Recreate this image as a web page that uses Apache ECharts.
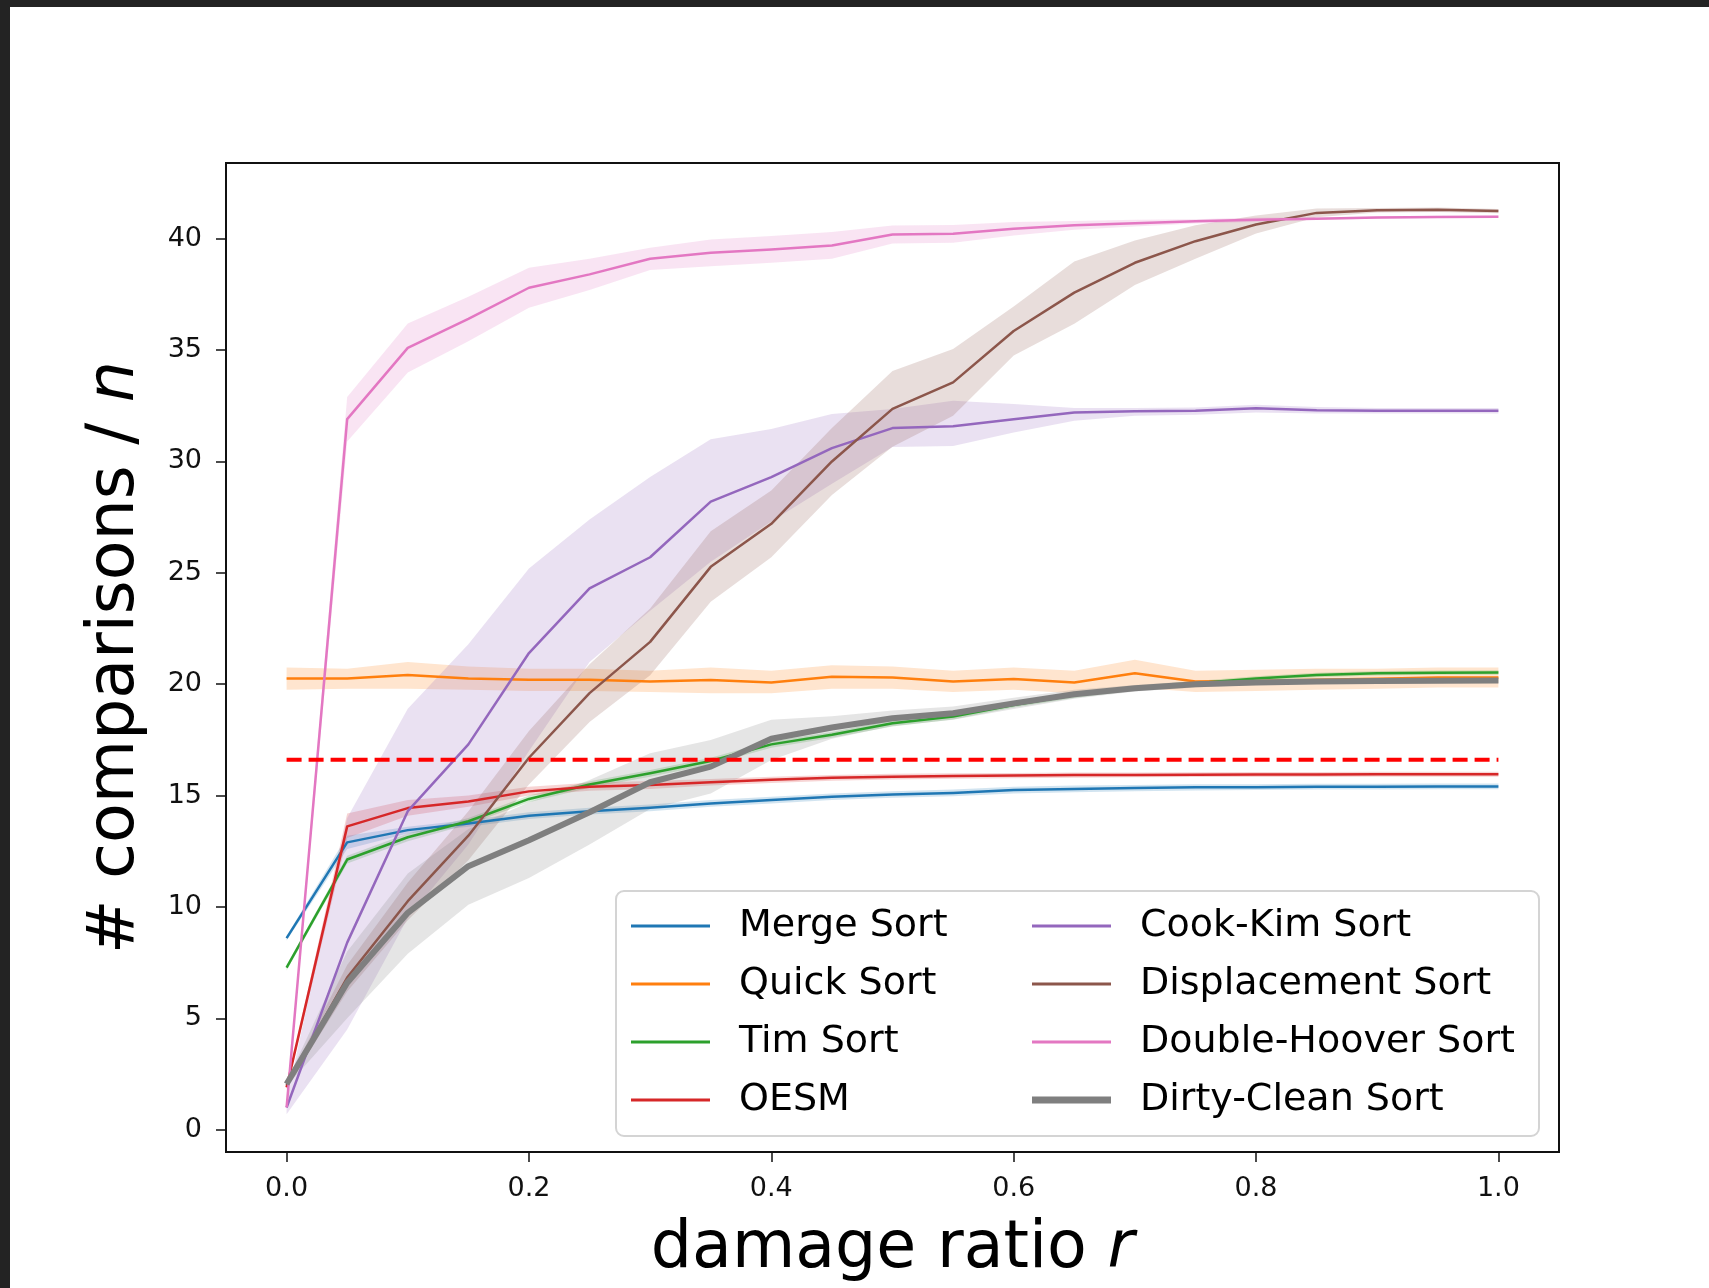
<!DOCTYPE html>
<html>
<head>
<meta charset="utf-8">
<script src="https://cdn.jsdelivr.net/npm/echarts@6/dist/echarts.min.js"></script>
<style>
  html, body { margin: 0; padding: 0; background: #fff; }
  #chart { position: absolute; left: 0; top: 0; width: 1709px; height: 1288px; }
  .edge { position: absolute; background: #232323; z-index: 10; }
</style>
</head>
<body>
<div id="chart"></div>
<div class="edge" style="left:0;top:0;width:1709px;height:7px;"></div>
<div class="edge" style="left:0;top:0;width:10px;height:1288px;"></div>
<script>
// damage ratio r
var xs = [0, 0.05, 0.1, 0.15, 0.2, 0.25, 0.3, 0.35, 0.4, 0.45, 0.5,
          0.55, 0.6, 0.65, 0.7, 0.75, 0.8, 0.85, 0.9, 0.95, 1.0];
var xTicks = [0, 0.2, 0.4, 0.6, 0.8, 1.0];
var yTicks = [0, 5, 10, 15, 20, 25, 30, 35, 40];
var log2n = 16.61;   // dashed reference line
var refX = [0, 1];

// mean comparisons / n
var mergeSort = [8.6, 12.9, 13.45, 13.75, 14.1, 14.3, 14.45, 14.65, 14.8, 14.95, 15.05, 15.12, 15.25, 15.3, 15.34, 15.37, 15.38, 15.4, 15.4, 15.41, 15.41];
var quickSort = [20.26, 20.26, 20.41, 20.26, 20.2, 20.2, 20.12, 20.19, 20.08, 20.34, 20.3, 20.12, 20.24, 20.08, 20.49, 20.12, 20.15, 20.2, 20.25, 20.3, 20.3];
var timSort = [7.28, 12.13, 13.13, 13.85, 14.85, 15.5, 16.0, 16.55, 17.3, 17.73, 18.25, 18.55, 19.07, 19.5, 19.82, 20.04, 20.26, 20.41, 20.49, 20.52, 20.53];
var oesm = [1.9, 13.62, 14.44, 14.74, 15.19, 15.4, 15.48, 15.6, 15.71, 15.8, 15.85, 15.88, 15.9, 15.92, 15.93, 15.94, 15.95, 15.95, 15.96, 15.96, 15.96];
var cookKim = [1.0, 8.4, 14.3, 17.3, 21.4, 24.3, 25.7, 28.2, 29.3, 30.6, 31.5, 31.58, 31.9, 32.2, 32.25, 32.28, 32.39, 32.3, 32.28, 32.28, 32.28];
var displacement = [2.0, 6.83, 10.26, 13.2, 16.7, 19.6, 21.9, 25.27, 27.2, 30.0, 32.36, 33.55, 35.86, 37.58, 38.92, 39.89, 40.64, 41.16, 41.28, 41.3, 41.24];
var doubleHoover = [1.0, 31.9, 35.1, 36.4, 37.8, 38.4, 39.1, 39.37, 39.52, 39.7, 40.19, 40.22, 40.45, 40.6, 40.7, 40.78, 40.85, 40.9, 40.95, 40.98, 40.99];
var dirtyClean = [2.05, 6.6, 9.74, 11.83, 13.0, 14.25, 15.6, 16.3, 17.55, 18.06, 18.47, 18.7, 19.14, 19.55, 19.82, 20.0, 20.08, 20.12, 20.14, 20.16, 20.17];

// confidence bands (lower / upper)
var mergeLo = [8.5, 12.6, 13.3, 13.6, 13.95, 14.15, 14.3, 14.5, 14.65, 14.8, 14.9, 14.97, 15.1, 15.15, 15.2, 15.23, 15.25, 15.27, 15.27, 15.28, 15.28];
var mergeHi = [8.7, 13.2, 13.6, 13.9, 14.25, 14.45, 14.6, 14.8, 14.95, 15.1, 15.2, 15.27, 15.4, 15.45, 15.48, 15.51, 15.51, 15.53, 15.53, 15.54, 15.54];
var quickLo = [19.75, 19.8, 19.8, 19.75, 19.7, 19.7, 19.65, 19.6, 19.6, 19.8, 19.8, 19.65, 19.75, 19.6, 19.85, 19.65, 19.7, 19.75, 19.8, 19.85, 19.85];
var quickHi = [20.75, 20.7, 21.0, 20.8, 20.7, 20.7, 20.6, 20.75, 20.6, 20.85, 20.8, 20.6, 20.75, 20.6, 21.1, 20.6, 20.65, 20.7, 20.7, 20.75, 20.75];
var timLo = [7.15, 11.95, 12.95, 13.7, 14.7, 15.35, 15.85, 16.4, 17.15, 17.6, 18.1, 18.42, 18.95, 19.38, 19.72, 19.94, 20.16, 20.31, 20.39, 20.42, 20.43];
var timHi = [7.4, 12.3, 13.3, 14.0, 15.0, 15.65, 16.15, 16.7, 17.45, 17.86, 18.4, 18.68, 19.19, 19.62, 19.92, 20.14, 20.36, 20.51, 20.59, 20.62, 20.63];
var oesmLo = [1.8, 13.1, 14.1, 14.5, 15.0, 15.22, 15.3, 15.45, 15.57, 15.67, 15.72, 15.76, 15.78, 15.8, 15.82, 15.83, 15.84, 15.84, 15.85, 15.85, 15.85];
var oesmHi = [2.0, 14.2, 14.8, 15.0, 15.4, 15.58, 15.66, 15.75, 15.85, 15.93, 15.98, 16.0, 16.02, 16.04, 16.04, 16.05, 16.06, 16.06, 16.07, 16.07, 16.07];
var cookLo = [0.7, 4.5, 9.5, 12.8, 17.0, 21.0, 23.3, 25.5, 27.3, 29.0, 30.65, 30.7, 31.3, 31.83, 32.05, 32.1, 32.2, 32.15, 32.15, 32.15, 32.15];
var cookHi = [1.3, 14.0, 18.9, 21.8, 25.2, 27.4, 29.3, 31.0, 31.46, 32.13, 32.36, 32.73, 32.58, 32.4, 32.4, 32.42, 32.55, 32.45, 32.4, 32.4, 32.4];
var dispLo = [1.9, 6.2, 9.4, 12.1, 15.5, 18.3, 20.4, 23.7, 25.7, 28.5, 30.66, 32.05, 34.76, 36.18, 37.92, 39.1, 40.24, 40.96, 41.18, 41.2, 41.14];
var dispHi = [2.1, 7.4, 11.1, 14.3, 17.9, 20.9, 23.4, 26.87, 28.7, 31.5, 34.06, 35.05, 36.96, 38.98, 39.92, 40.6, 41.04, 41.36, 41.38, 41.4, 41.34];
var hooverLo = [0.9, 30.9, 34.0, 35.4, 36.9, 37.7, 38.6, 38.77, 38.92, 39.1, 39.79, 39.82, 40.15, 40.4, 40.55, 40.68, 40.75, 40.85, 40.9, 40.93, 40.94];
var hooverHi = [1.1, 32.9, 36.2, 37.4, 38.7, 39.1, 39.6, 39.97, 40.12, 40.3, 40.59, 40.62, 40.75, 40.8, 40.85, 40.88, 40.95, 40.95, 41.0, 41.03, 41.04];
var dirtyLo = [1.95, 5.0, 7.9, 10.1, 11.3, 12.8, 14.4, 15.1, 16.6, 17.55, 18.12, 18.4, 18.89, 19.35, 19.67, 19.85, 19.98, 20.02, 20.04, 20.06, 20.07];
var dirtyHi = [2.15, 8.0, 11.5, 13.5, 14.7, 15.7, 16.9, 17.5, 18.4, 18.56, 18.82, 19.0, 19.39, 19.75, 19.97, 20.15, 20.18, 20.22, 20.24, 20.26, 20.27];

var names = ['Merge Sort', 'Quick Sort', 'Tim Sort', 'OESM',
             'Cook-Kim Sort', 'Displacement Sort', 'Double-Hoover Sort', 'Dirty-Clean Sort'];
var colors = ['#1f77b4', '#ff7f0e', '#2ca02c', '#d62728', '#9467bd', '#8c564b', '#e377c2', '#7f7f7f'];
var means = [mergeSort, quickSort, timSort, oesm, cookKim, displacement, doubleHoover, dirtyClean];
var lows = [mergeLo, quickLo, timLo, oesmLo, cookLo, dispLo, hooverLo, dirtyLo];
var highs = [mergeHi, quickHi, timHi, oesmHi, cookHi, dispHi, hooverHi, dirtyHi];

function hexA(hex, a) {
  var n = parseInt(hex.slice(1), 16);
  return 'rgba(' + (n >> 16) + ',' + ((n >> 8) & 255) + ',' + (n & 255) + ',' + a + ')';
}

// band polygon: upper edge left->right, lower edge right->left
function bandSeries(i) {
  var lo = lows[i], hi = highs[i];
  return {
    name: names[i] + ' band', type: 'custom', silent: true, z: 1, clip: true,
    data: [0],
    renderItem: function (params, api) {
      var pts = [];
      for (var k = 0; k < xs.length; k++) pts.push(api.coord([xs[k], hi[k]]));
      for (var k2 = xs.length - 1; k2 >= 0; k2--) pts.push(api.coord([xs[k2], lo[k2]]));
      return {
        type: 'polygon', shape: { points: pts },
        style: { fill: hexA(colors[i], 0.2), stroke: null }
      };
    }
  };
}

var series = [];
for (var i = 0; i < names.length; i++) series.push(bandSeries(i));
for (var j = 0; j < names.length; j++) {
  var m = means[j];
  series.push({
    name: names[j], type: 'line', symbol: 'none', z: 3,
    color: colors[j],
    lineStyle: { color: colors[j], width: j === 7 ? 6 : 2.5, join: 'round' },
    data: xs.map(function (x, k) { return [x, m[k]]; })
  });
}
// red dashed reference
series.push({
  name: 'log2 n', type: 'line', symbol: 'none', z: 4, silent: true,
  lineStyle: { color: '#ff0000', width: 4, type: [15, 7] },
  data: refX.map(function (x) { return [x, log2n]; })
});

var FONT = 'DejaVu Sans';
var legendText = { fontFamily: FONT, fontSize: 38, color: '#000', padding: [0, 0, 0, 24] };

var Chart = echarts.init(document.getElementById('chart'), null, { renderer: 'canvas' });
var option = {
  animation: false,
  backgroundColor: '#fff',
  grid: {
    left: 226, right: 150, top: 163, bottom: 134,
    show: true, borderColor: '#111', borderWidth: 2, backgroundColor: 'transparent'
  },
  xAxis: {
    type: 'value', min: -0.05, max: 1.05,
    name: '{n|damage ratio }{i|r}', nameLocation: 'middle', nameGap: 66,
    nameTextStyle: {
      rich: {
        n: { fontFamily: FONT, fontSize: 65, color: '#000' },
        i: { fontFamily: FONT, fontSize: 65, color: '#000', fontStyle: 'italic' }
      }
    },
    axisLine: { show: false, onZero: false },
    splitLine: { show: false },
    axisTick: { show: true, length: 10, customValues: xTicks, lineStyle: { color: '#111', width: 1.5 } },
    axisLabel: {
      customValues: xTicks, margin: 23, fontFamily: FONT, fontSize: 27, color: '#111',
      formatter: function (v) { return v.toFixed(1); }
    }
  },
  yAxis: {
    type: 'value', min: -1, max: 43.4,
    name: '# comparisons / {i|n}', nameLocation: 'middle', nameGap: 77, nameRotate: 90,
    nameTextStyle: {
      fontFamily: FONT, fontSize: 65, color: '#000',
      rich: { i: { fontFamily: FONT, fontSize: 65, color: '#000', fontStyle: 'italic' } }
    },
    axisLine: { show: false, onZero: false },
    splitLine: { show: false },
    axisTick: { show: true, length: 10, customValues: yTicks, lineStyle: { color: '#111', width: 1.5 } },
    axisLabel: { customValues: yTicks, margin: 24, fontFamily: FONT, fontSize: 27, color: '#111' }
  },
  graphic: [{
    type: 'rect', z: 5,
    shape: { x: 616, y: 891, width: 923, height: 245, r: 8 },
    style: { fill: 'rgba(255,255,255,0.8)', stroke: '#d4d4d4', lineWidth: 2 }
  }],
  legend: [{
    data: names.slice(0, 4), orient: 'vertical', left: 631, top: 907, padding: 0,
    itemGap: 20, itemWidth: 79, itemHeight: 3, icon: 'rect', z: 6,
    textStyle: legendText
  }, {
    data: names.slice(4, 7), orient: 'vertical', left: 1032, top: 907, padding: 0,
    itemGap: 20, itemWidth: 79, itemHeight: 3, icon: 'rect', z: 6,
    textStyle: legendText
  }, {
    data: names.slice(7), orient: 'vertical', left: 1032, top: 1081, padding: 0,
    itemWidth: 79, itemHeight: 7, icon: 'rect', z: 6,
    textStyle: legendText
  }],
  series: series
};
Chart.setOption(option);
</script>
</body>
</html>
